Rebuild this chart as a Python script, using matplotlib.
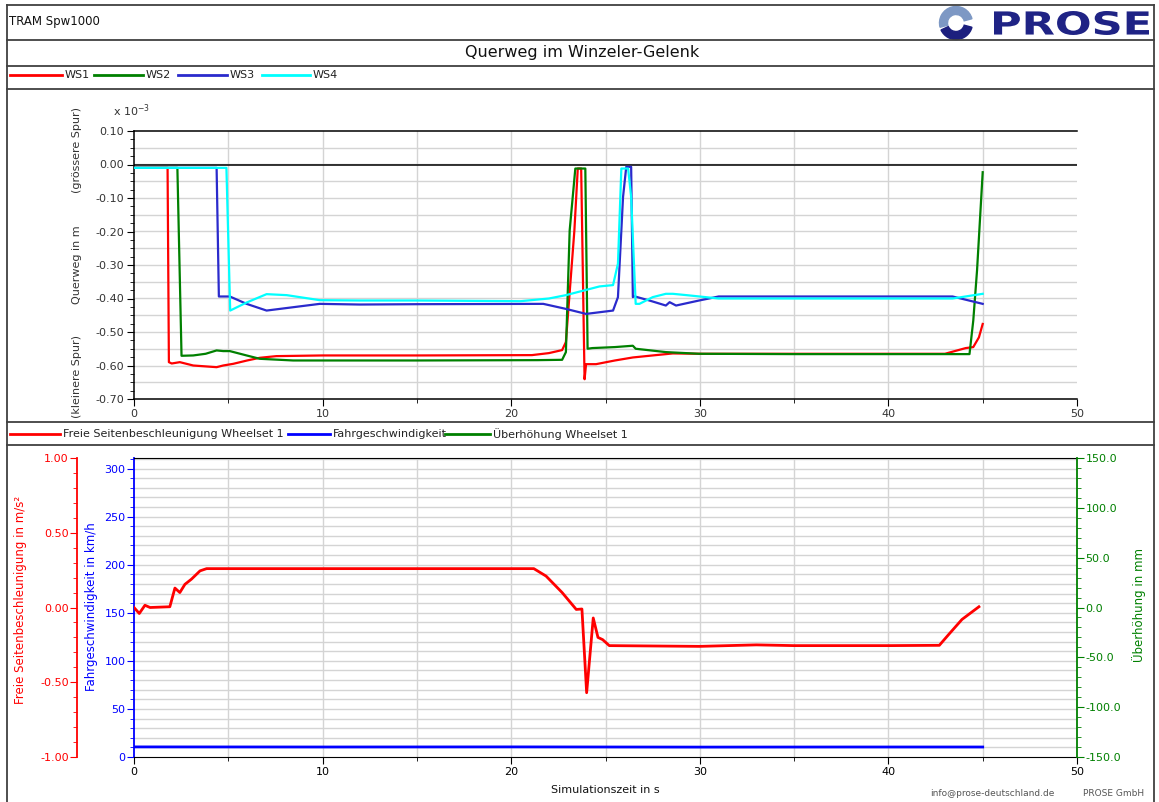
import numpy as np
import matplotlib
matplotlib.use("Agg")
import matplotlib.pyplot as plt
from matplotlib.lines import Line2D
from matplotlib.patches import Wedge, PathPatch
from matplotlib.textpath import TextPath
from matplotlib.font_manager import FontProperties
from matplotlib.transforms import Affine2D
from matplotlib.ticker import MultipleLocator, FormatStrFormatter

plt.rcParams['font.family'] = ['DejaVu Sans']

# Querweg (x 10^-3 m) je Radsatz
ws1_t = [0, 1.78, 1.85, 2.0, 2.43, 3.14, 4.38, 4.73, 5.26, 6.0, 6.67, 7.55, 10, 15, 21.1, 22.0,
         22.7, 22.9, 23.35, 23.53, 23.71, 23.89, 23.97, 24.5, 25.5, 26.45, 27.5, 28.57, 30, 35,
         40, 43.0, 44.1, 44.5, 44.8, 45.0]
ws1_v = [-0.01, -0.01, -0.59, -0.594, -0.59, -0.60, -0.605, -0.60, -0.595, -0.585, -0.577, -0.572,
         -0.570, -0.570, -0.569, -0.563, -0.554, -0.53, -0.197, -0.012, -0.012, -0.641, -0.596,
         -0.596, -0.585, -0.576, -0.57, -0.564, -0.565, -0.565, -0.565, -0.565, -0.548, -0.545,
         -0.516, -0.476]

ws2_t = [0, 2.3, 2.52, 3.14, 3.8, 4.38, 4.73, 5.08, 5.97, 6.67, 8.44, 10, 15, 21.4, 22.7, 22.9,
         23.1, 23.4, 23.93, 24.05, 24.3, 25.5, 26.45, 26.6, 28.2, 29.96, 35, 40, 44.3, 44.5, 44.7, 45.0]
ws2_v = [-0.01, -0.01, -0.571, -0.57, -0.565, -0.555, -0.557, -0.557, -0.57, -0.58, -0.585, -0.585,
         -0.585, -0.584, -0.583, -0.56, -0.197, -0.012, -0.012, -0.55, -0.548, -0.545, -0.541,
         -0.55, -0.56, -0.565, -0.566, -0.566, -0.566, -0.466, -0.316, -0.023]

ws3_t = [0, 4.38, 4.5, 5.08, 5.97, 7.03, 8.44, 9.85, 11.97, 15, 21.7, 22.9, 23.97, 25.4, 25.66,
         25.93, 26.1, 26.36, 26.45, 26.5, 27.33, 28.2, 28.4, 28.74, 29.96, 31.0, 35, 40, 43.4, 45.0]
ws3_v = [-0.01, -0.01, -0.394, -0.394, -0.416, -0.436, -0.426, -0.416, -0.418, -0.417, -0.416,
         -0.431, -0.446, -0.436, -0.396, -0.097, -0.007, -0.007, -0.396, -0.393, -0.406, -0.421,
         -0.411, -0.421, -0.406, -0.394, -0.394, -0.394, -0.394, -0.416]

ws4_t = [0, 4.9, 5.1, 5.97, 7.03, 8.1, 9.85, 11.97, 15, 20.5, 22.0, 22.9, 24.68, 25.4, 25.66,
         25.84, 26.2, 26.36, 26.6, 26.8, 27.5, 28.2, 28.57, 29.3, 31.0, 35, 40, 43.4, 45.0]
ws4_v = [-0.01, -0.01, -0.436, -0.412, -0.387, -0.39, -0.405, -0.406, -0.406, -0.408, -0.40,
         -0.39, -0.364, -0.36, -0.296, -0.012, -0.012, -0.097, -0.416, -0.416, -0.396, -0.386,
         -0.386, -0.39, -0.40, -0.40, -0.40, -0.40, -0.386]

# freie Seitenbeschleunigung (m/s^2) und Fahrgeschwindigkeit (km/h)
acc_t = [0, 0.28, 0.58, 0.85, 1.9, 2.17, 2.43, 2.7, 3.05, 3.5, 3.85, 10, 15, 21.2, 21.85, 22.7,
         23.45, 23.75, 24.0, 24.35, 24.6, 24.85, 25.2, 30, 33, 35, 40, 42.7, 43.2, 43.9, 44.8]
acc_v = [0.0, -0.04, 0.015, 0.0, 0.005, 0.13, 0.10, 0.155, 0.19, 0.245, 0.26, 0.26, 0.26, 0.26,
         0.21, 0.10, -0.013, -0.01, -0.57, -0.07, -0.20, -0.215, -0.255, -0.26, -0.25, -0.255,
         -0.255, -0.253, -0.18, -0.08, 0.005]

speed_t = [0, 10, 20, 30, 38, 45]
speed_v = [10.5, 10.4, 10.5, 10.3, 10.4, 10.4]

ws_labels = ['WS1', 'WS2', 'WS3', 'WS4']
ws_colors = ['#ff0000', '#008000', '#2a2acc', '#00ffff']
low_labels = ['Freie Seitenbeschleunigung Wheelset 1', 'Fahrgeschwindigkeit', 'Überhöhung Wheelset 1']
low_colors = ['#ff0000', '#0000ff', '#008000']

W, H = 1159, 802
fig = plt.figure(figsize=(W / 100, H / 100), dpi=100)


def fx(x):
    return x / W


def fy(y):
    return 1 - y / H


def hline(y, x0=7, x1=1154, c='#404040', lw=1.3):
    fig.add_artist(Line2D([fx(x0), fx(x1)], [fy(y), fy(y)], color=c, lw=lw))


def vline(x, y0, y1, c='#404040', lw=1.3):
    fig.add_artist(Line2D([fx(x), fx(x)], [fy(y0), fy(y1)], color=c, lw=lw))


def legend_row(y, items, fs=8):
    for x0, x1, label, col in items:
        fig.add_artist(Line2D([fx(x0), fx(x1)], [fy(y), fy(y)], color=col, lw=2))
        fig.text(fx(x1 + 3), fy(y), label, fontsize=fs, va='center', ha='left', color='#222222')


# Rahmen
hline(5)
hline(40)
hline(66)
hline(89)
hline(422)
hline(445)
vline(7, 5, 802)
vline(1154, 5, 802)

fig.text(fx(9), fy(22), 'TRAM Spw1000', fontsize=8.5, va='center', color='#111111')
fig.text(fx(582), fy(53), 'Querweg im Winzeler-Gelenk', fontsize=11.5, ha='center', va='center',
         color='#111111')

# PROSE logo
cx, cy = 956 / 100, (H - 23) / 100
for a0, a1, col in [(15, 195, '#7d98c4'), (205, 345, '#1c1f7e')]:
    fig.add_artist(Wedge((cx, cy), 0.165, a0, a1, width=0.08, color=col,
                         transform=fig.dpi_scale_trans))
tp = TextPath((0, 0), 'PROSE', size=10, prop=FontProperties(family='DejaVu Sans', weight='bold'))
ext = tp.get_extents()
sx = 155 / ext.width / 100
sy = 24 / ext.height / 100
tr = Affine2D().translate(-ext.x0, -ext.y0).scale(sx, sy).translate(994 / 100, (H - 35) / 100)
fig.add_artist(PathPatch(tr.transform_path(tp), color='#1f2385', lw=0,
                         transform=fig.dpi_scale_trans))

legend_row(75, [(10, 62, ws_labels[0], ws_colors[0]), (94, 143, ws_labels[1], ws_colors[1]),
                (178, 227, ws_labels[2], ws_colors[2]), (262, 310, ws_labels[3], ws_colors[3])])
legend_row(434, [(10, 60, low_labels[0], low_colors[0]), (288, 330, low_labels[1], low_colors[1]),
                 (445, 490, low_labels[2], low_colors[2])])

grid_c = '#d4d4d4'
tick_c = '#333333'

# --- oberes Diagramm: Querweg
ax1 = fig.add_axes([fx(134), fy(399), fx(1077) - fx(134), fy(131) - fy(399)])
for t, v, c in zip([ws1_t, ws2_t, ws3_t, ws4_t], [ws1_v, ws2_v, ws3_v, ws4_v], ws_colors):
    ax1.plot(t, v, color=c, lw=1.6, zorder=3)
ax1.axhline(0, color='black', lw=1.1, zorder=2)
ax1.set_xlim(0, 50)
ax1.set_ylim(-0.70, 0.10)
ax1.xaxis.set_major_locator(MultipleLocator(10))
ax1.xaxis.set_minor_locator(MultipleLocator(5))
ax1.yaxis.set_major_locator(MultipleLocator(0.1))
ax1.yaxis.set_minor_locator(MultipleLocator(0.025))
ax1.yaxis.set_major_formatter(FormatStrFormatter('%.2f'))
for x in np.arange(5, 50, 5):
    ax1.axvline(x, color=grid_c, lw=1, zorder=1)
for y in np.arange(-0.65, 0.1, 0.05):
    ax1.axhline(y, color=grid_c, lw=1, zorder=1)
ax1.spines['right'].set_visible(False)
for s in ['left', 'bottom', 'top']:
    ax1.spines[s].set_color('black')
    ax1.spines[s].set_linewidth(1.1)
ax1.tick_params(which='major', length=5, labelsize=8, colors='black', labelcolor=tick_c, pad=2)
ax1.tick_params(which='minor', length=3, colors='black')
fig.text(fx(113), fy(111), r'x 10$^{-3}$', fontsize=8, color=tick_c, ha='left', va='center')
fig.text(fx(77), fy(150), '(grössere Spur)', rotation=90, fontsize=8, color=tick_c, ha='center', va='center')
fig.text(fx(77), fy(265), 'Querweg in m', rotation=90, fontsize=8, color=tick_c, ha='center', va='center')
fig.text(fx(77), fy(376), '(kleinere Spur)', rotation=90, fontsize=8, color=tick_c, ha='center', va='center')

# --- unteres Diagramm: Beschleunigung / Geschwindigkeit / Überhöhung
ax2 = fig.add_axes([fx(134), fy(757), fx(1077) - fx(134), fy(458) - fy(757)])
ax2.plot(speed_t, speed_v, color=low_colors[1], lw=2, zorder=3)
ax2.set_xlim(0, 50)
ax2.set_ylim(0, 311)
ax2.xaxis.set_major_locator(MultipleLocator(10))
ax2.xaxis.set_minor_locator(MultipleLocator(5))
ax2.yaxis.set_major_locator(MultipleLocator(50))
ax2.yaxis.set_minor_locator(MultipleLocator(10))
for x in np.arange(5, 50, 5):
    ax2.axvline(x, color=grid_c, lw=1, zorder=1)
for y in np.arange(10, 311, 10):
    ax2.axhline(y, color=grid_c, lw=1, zorder=1)
ax2.spines['left'].set_color(low_colors[1])
ax2.spines['left'].set_linewidth(1.3)
ax2.spines['right'].set_visible(False)
ax2.spines['top'].set_color('black')
ax2.spines['bottom'].set_color('black')
ax2.tick_params(axis='y', which='both', colors=low_colors[1], labelsize=8, pad=1)
ax2.tick_params(axis='y', which='major', length=5)
ax2.tick_params(axis='y', which='minor', length=3)
ax2.tick_params(axis='x', which='major', length=5, labelsize=8, colors='black', pad=2)
ax2.tick_params(axis='x', which='minor', length=3, colors='black')
fig.text(fx(605), fy(790), 'Simulationszeit in s', fontsize=8, ha='center', va='center', color='#111111')
fig.text(fx(91), fy(607), 'Fahrgeschwindigkeit in km/h', rotation=90, fontsize=8.5,
         color=low_colors[1], ha='center', va='center')

ax3 = ax2.twinx()
ax3.yaxis.set_ticks_position('left')
ax3.spines['left'].set_position(('outward', 41))
ax3.spines['left'].set_visible(True)
ax3.spines['left'].set_color(low_colors[0])
ax3.spines['left'].set_linewidth(1.3)
for s in ['right', 'top', 'bottom']:
    ax3.spines[s].set_visible(False)
ax3.plot(acc_t, acc_v, color=low_colors[0], lw=2, zorder=4)
ax3.set_ylim(-1.0, 1.0)
ax3.yaxis.set_major_locator(MultipleLocator(0.5))
ax3.yaxis.set_minor_locator(MultipleLocator(0.1))
ax3.yaxis.set_major_formatter(FormatStrFormatter('%.2f'))
ax3.tick_params(axis='y', which='both', colors=low_colors[0], labelsize=8, pad=1)
ax3.tick_params(axis='y', which='major', length=5)
ax3.tick_params(axis='y', which='minor', length=3)
fig.text(fx(21), fy(600), 'Freie Seitenbeschleunigung in m/s²', rotation=90, fontsize=8.5,
         color=low_colors[0], ha='center', va='center')

ax4 = ax2.twinx()
for s in ['left', 'top', 'bottom']:
    ax4.spines[s].set_visible(False)
ax4.spines['right'].set_color(low_colors[2])
ax4.spines['right'].set_linewidth(1.3)
ax4.set_ylim(-150, 150)
ax4.yaxis.set_major_locator(MultipleLocator(50))
ax4.yaxis.set_minor_locator(MultipleLocator(10))
ax4.yaxis.set_major_formatter(FormatStrFormatter('%.1f'))
ax4.tick_params(axis='y', which='both', colors=low_colors[2], labelsize=8, pad=1)
ax4.tick_params(axis='y', which='major', length=5)
ax4.tick_params(axis='y', which='minor', length=3)
fig.text(fx(1139), fy(605), 'Überhöhung in mm', rotation=90, fontsize=8.5,
         color=low_colors[2], ha='center', va='center')

fig.text(fx(992), fy(793), 'info@prose-deutschland.de', fontsize=6.5, color='#555555', ha='center', va='center')
fig.text(fx(1114), fy(793), 'PROSE GmbH', fontsize=6.5, color='#555555', ha='center', va='center')

fig.savefig('out.png', dpi=100)
